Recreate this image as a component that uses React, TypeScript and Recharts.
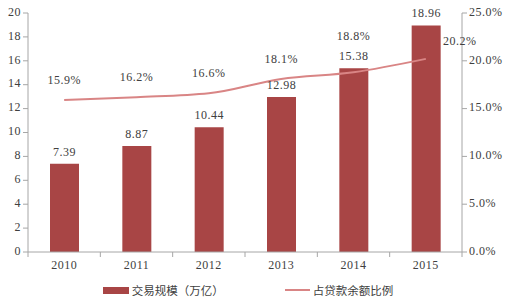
import {
  ComposedChart,
  Bar,
  Line,
  XAxis,
  YAxis,
  Legend,
  LabelList,
} from 'recharts';

const years = ['2010', '2011', '2012', '2013', '2014', '2015'];
const tradeScale = [7.39, 8.87, 10.44, 12.98, 15.38, 18.96];
const loanRatio = [15.9, 16.2, 16.6, 18.1, 18.8, 20.2];
const leftTicks = [0, 2, 4, 6, 8, 10, 12, 14, 16, 18, 20];
const rightTicks = [0, 5, 10, 15, 20, 25];

const data = years.map((year, i) => ({
  year,
  scale: tradeScale[i],
  ratio: loanRatio[i],
}));

const BAR = '#a84545';
const LINE = '#d98585';
const AXIS = '#a6a6a6';
const TXT = '#404040';
const NUM_FONT = '"Liberation Serif", "DejaVu Serif", serif';
const CJK_FONT = '"Noto Sans CJK SC", sans-serif';
const numStyle = { fontSize: 12, fontFamily: NUM_FONT, fill: TXT, letterSpacing: 0.5 };

// 折线标签：2014 往上避开柱标签，2015 放在右上
const ratioLabel = (props: any) => {
  const { x, y, index, value } = props;
  let dx = 0;
  let dy = -19;
  if (index === 4) dy = -35;
  if (index === 5) {
    dx = 34;
    dy = -17;
  }
  return (
    <text
      x={x + dx}
      y={y + dy}
      textAnchor="middle"
      dominantBaseline="middle"
      style={numStyle}
    >
      {`${Number(value).toFixed(1)}%`}
    </text>
  );
};

const bandTick = (props: any) => {
  const { x, y, payload, index } = props;
  const band = (506 - 28 - 44) / years.length;
  return (
    <g>
      <line x1={x - band / 2} x2={x - band / 2} y1={y - 8} y2={y - 3} stroke={AXIS} />
      {index === years.length - 1 && (
        <line x1={x + band / 2} x2={x + band / 2} y1={y - 8} y2={y - 3} stroke={AXIS} />
      )}
      <text x={x} y={y + 9} textAnchor="middle" style={numStyle}>
        {payload.value}
      </text>
    </g>
  );
};

const yTick = (fmt: (v: number) => string, anchor: 'start' | 'end') => (props: any) => {
  const { x, y, payload } = props;
  return (
    <text x={x} y={y} textAnchor={anchor} dominantBaseline="middle" style={numStyle}>
      {fmt(payload.value)}
    </text>
  );
};

const legendContent = () => (
  <div
    style={{
      display: 'flex',
      justifyContent: 'center',
      alignItems: 'center',
      fontFamily: CJK_FONT,
      fontSize: 11.5,
      color: TXT,
      lineHeight: '16px',
      paddingRight: 10,
    }}
  >
    <span style={{ display: 'flex', alignItems: 'center', marginRight: 61 }}>
      <span style={{ width: 26, height: 7, background: BAR, marginRight: 3 }} />
      交易规模（万亿）
    </span>
    <span style={{ display: 'flex', alignItems: 'center' }}>
      <span style={{ width: 25, height: 2, background: LINE, marginRight: 3 }} />
      占贷款余额比例
    </span>
  </div>
);

export default function App() {
  return (
    <div style={{ position: 'absolute', left: 0, top: 0, background: '#fff' }}>
      <ComposedChart
        width={506}
        height={301}
        data={data}
        margin={{ top: 13, right: 0, bottom: 3, left: 0 }}
      >
        <XAxis
          dataKey="year"
          tick={bandTick}
          tickLine={false}
          axisLine={{ stroke: AXIS }}
          height={30}
        />
        <YAxis
          yAxisId="left"
          domain={[0, 20]}
          ticks={leftTicks}
          interval={0}
          width={28}
          tick={yTick((v) => String(v), 'end')}
          tickLine={{ stroke: AXIS }}
          tickSize={5}
          axisLine={{ stroke: AXIS }}
        />
        <YAxis
          yAxisId="right"
          orientation="right"
          domain={[0, 25]}
          ticks={rightTicks}
          interval={0}
          width={44}
          tick={yTick((v) => `${v.toFixed(1)}%`, 'start')}
          tickLine={{ stroke: AXIS }}
          tickSize={5}
          axisLine={{ stroke: AXIS }}
        />
        <Legend verticalAlign="bottom" height={16} content={legendContent} />
        <Bar
          yAxisId="left"
          dataKey="scale"
          name="交易规模（万亿）"
          fill={BAR}
          barSize={29}
          isAnimationActive={false}
        >
          <LabelList
            dataKey="scale"
            position="top"
            offset={8}
            formatter={(v: any) => Number(v).toFixed(2)}
            style={numStyle}
          />
        </Bar>
        <Line
          yAxisId="right"
          dataKey="ratio"
          name="占贷款余额比例"
          stroke={LINE}
          strokeWidth={2}
          dot={false}
          type="monotone"
          isAnimationActive={false}
        >
          <LabelList dataKey="ratio" content={ratioLabel} />
        </Line>
      </ComposedChart>
    </div>
  );
}
